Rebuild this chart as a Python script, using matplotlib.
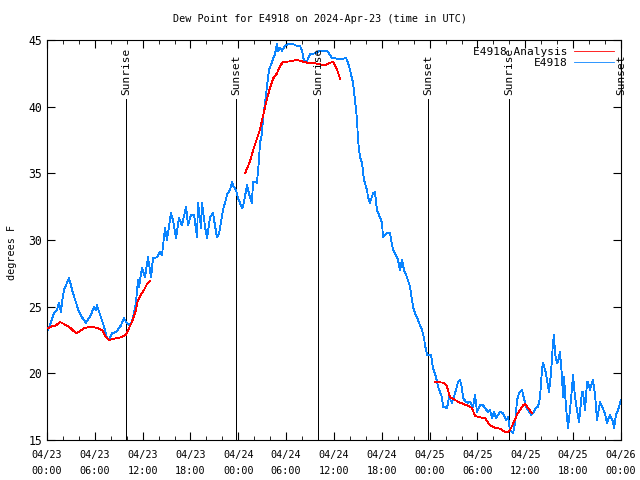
import numpy as np
import pandas as pd
import matplotlib
matplotlib.use('Agg')
import matplotlib.pyplot as plt
import matplotlib.dates as mdates

# start of the time window (UTC)
START = pd.Timestamp('2024-04-23 00:00')

# observed dew point, E4918 (hours since start, degrees F)
obs_hours = [
    0.13, 0.50, 0.88, 1.25, 1.50, 1.76, 1.88, 2.13, 2.51, 2.76, 3.01, 3.14, 3.64, 4.01,
    4.39, 4.89, 5.52, 5.90, 6.15, 6.27, 6.77, 7.15, 7.53, 7.78, 8.15, 8.66, 9.28, 9.66,
    9.91, 10.29, 10.66, 11.16, 11.41, 11.54, 11.92, 12.29, 12.67, 13.05, 13.30, 13.80,
    14.17, 14.43, 14.80, 15.05, 15.55, 15.80, 16.18, 16.56, 16.93, 17.44, 17.69, 18.06,
    18.44, 18.82, 18.94, 19.32, 19.44, 19.82, 20.07, 20.45, 20.82, 21.32, 21.58, 22.08,
    22.33, 22.58, 22.95, 23.20, 23.33, 23.71, 23.96, 24.46, 24.59, 25.09, 25.46, 25.71,
    25.84, 26.34, 26.59, 26.72, 26.97, 27.09, 27.35, 27.60, 27.85, 28.22, 28.35, 28.60,
    28.85, 28.98, 29.23, 29.48, 29.85, 30.23, 30.86, 31.36, 31.74, 31.99, 32.24, 32.61,
    32.99, 33.62, 34.24, 35.12, 35.75, 36.38, 37.13, 37.51, 37.76, 38.01, 38.38, 38.63,
    38.89, 39.01, 39.26, 39.51, 39.76, 40.14, 40.27, 40.52, 40.89, 41.14, 41.39, 41.77,
    42.02, 42.15, 42.65, 43.03, 43.40, 43.65, 44.03, 44.28, 44.53, 44.78, 45.16, 45.53,
    45.91, 46.16, 46.54, 46.66, 47.04, 47.29, 47.42, 47.67, 48.17, 48.42, 48.80, 49.05,
    49.55, 49.67, 50.18, 50.43, 50.80, 51.18, 51.56, 51.81, 52.06, 52.18, 52.56, 52.81,
    53.06, 53.31, 53.44, 53.69, 53.94, 54.31, 54.69, 54.94, 55.32, 55.57, 55.82, 56.07,
    56.32, 56.82, 57.20, 57.58, 57.83, 58.08, 58.45, 58.71, 58.96, 59.21, 59.58, 59.71,
    60.08, 60.34, 60.71, 60.96, 61.34, 61.59, 61.84, 62.09, 62.22, 62.59, 62.72, 62.97,
    63.22, 63.47, 63.60, 63.72, 63.97, 64.10, 64.35, 64.60, 64.73, 64.85, 65.10, 65.35,
    65.60, 65.86, 65.98, 66.23, 66.48, 66.73, 67.11, 67.23, 67.49, 67.74, 67.86, 68.11,
    68.36, 68.49, 68.74, 68.99, 69.37, 69.62, 69.99, 70.24, 70.62, 71.00, 71.12, 71.38,
    71.63, 72.00,
]
obs_values = [
    23.25, 23.85, 24.5, 24.75, 25.3, 24.6, 25.35, 26.25, 26.8, 27.15, 26.6, 26.25, 25.3, 24.6,
    24.2, 23.8, 24.4, 25.0, 24.75, 25.1, 24.2, 23.5, 22.65, 22.5, 23.0, 23.1, 23.6, 24.15,
    23.85, 23.6, 23.85, 25.3, 27.0, 26.5, 27.9, 27.2, 28.7, 27.2, 28.65, 28.7,
    29.1, 28.9, 30.9, 30.0, 32.0, 31.5, 30.15, 31.65, 31.1, 32.5, 31.1, 31.9,
    31.9, 30.2, 32.8, 30.9, 32.8, 31.0, 30.15, 31.7, 32.0, 30.2, 30.5, 32.25,
    32.8, 33.4, 33.75, 34.35, 34.1, 33.75, 33.15, 32.4, 32.5, 34.1, 33.2, 32.8,
    34.35, 34.3, 36.0, 37.3, 38.0, 39.1, 40.3, 41.55, 42.8, 43.3, 43.6, 43.95,
    44.7, 44.2, 44.4, 44.2, 44.55, 44.7, 44.7, 44.55, 44.55, 44.2, 43.4, 43.4,
    43.95, 44.0, 44.2, 44.2, 43.65, 43.6, 43.6, 43.65, 43.3, 42.75, 41.8, 40.5,
    39.0, 37.5, 36.2, 35.8, 34.5, 33.75, 33.2, 32.8, 33.5, 33.6, 32.25, 31.7,
    31.3, 30.2, 30.5, 30.5, 29.25, 29.0, 28.5, 27.75, 28.5, 27.75, 27.2, 26.5,
    25.0, 24.5, 24.0, 23.8, 23.25, 22.65, 22.1, 21.4, 21.4, 20.4, 19.7, 19.0,
    18.2, 17.5, 17.4, 18.2, 17.8, 18.5, 19.35, 19.5, 18.9, 18.15, 17.85, 17.8,
    17.85, 17.6, 17.5, 18.4, 17.1, 17.6, 17.6, 17.4, 17.1, 17.25, 16.65, 17.1,
    16.65, 17.1, 17.0, 16.5, 16.7, 15.75, 15.5, 16.3, 18.0, 18.5, 18.75, 18.4,
    17.5, 17.25, 16.9, 17.0, 17.4, 17.5, 18.2, 20.25, 20.8, 20.0, 19.5, 18.6,
    20.0, 22.3, 22.9, 21.5, 20.8, 20.85, 21.6, 19.7, 18.2, 19.7, 17.5, 15.9,
    17.25, 18.9, 19.9, 18.2, 17.25, 16.35, 18.6, 18.6, 17.25, 19.35, 19.35, 18.75,
    19.3, 19.5, 18.4, 16.5, 17.85, 17.5, 17.0, 16.3, 16.9, 16.35, 15.9, 16.9,
    17.25, 18.0,
]

# analysis dew point (NaN marks gaps in the analysis)
ana_hours = [
    0.13, 0.50, 1.13, 1.63, 2.13, 2.76, 3.64, 4.01, 4.64, 5.52, 6.27, 6.90, 7.40, 7.78,
    8.40, 9.28, 9.91, 10.29, 10.66, 11.16, 11.41, 11.79, 12.17, 12.54, 12.92, 18.0,
    24.84, 25.46, 25.84, 26.34, 26.72, 27.09, 27.60, 27.97, 28.35, 28.85, 29.23, 29.60,
    30.48, 31.36, 31.99, 32.61, 33.37, 33.99, 34.87, 35.50, 35.88, 36.38, 36.75, 42.0,
    48.67, 49.80, 50.18, 50.55, 51.18, 51.81, 52.68, 53.31, 53.69, 54.31, 54.94, 55.57,
    56.20, 56.82, 57.45, 57.83, 58.08, 58.45, 58.96, 59.33, 59.71, 59.96, 60.34, 60.84,
]
ana_values = [
    23.4, 23.5, 23.6, 23.85, 23.7, 23.5, 23.0, 23.1, 23.4, 23.5, 23.4, 23.25, 22.7, 22.5,
    22.6, 22.7, 22.9, 23.4, 23.85, 24.75, 25.5, 25.9, 26.25, 26.7, 26.9, np.nan,
    35.0, 35.9, 36.7, 37.6, 38.3, 39.3, 40.6, 41.4, 42.1, 42.5, 43.05, 43.35,
    43.4, 43.5, 43.4, 43.3, 43.3, 43.2, 43.1, 43.3, 43.35, 42.8, 42.1, np.nan,
    19.35, 19.3, 19.0, 18.2, 18.0, 17.8, 17.6, 17.4, 16.8, 16.7, 16.65, 16.1,
    15.9, 15.85, 15.6, 15.6, 15.75, 16.2, 16.9, 17.25, 17.6, 17.7, 17.4, 17.0,
]

# sunrise / sunset events (hours since start)
event_hours = [9.91, 23.7, 33.99, 47.79, 57.95, 72.0]
event_labels = ['Sunrise', 'Sunset', 'Sunrise', 'Sunset', 'Sunrise', 'Sunset']

MONO = 'DejaVu Sans Mono'
FS = 7.3
LW = 0.6


def to_time(hours):
    return [START + pd.Timedelta(hours=h) for h in hours]


def make_chart():
    fig = plt.figure(figsize=(6.4, 4.8), dpi=100)
    ax = fig.add_axes([47 / 640, 40 / 480, 574 / 640, 400 / 480])

    ax.plot(to_time(ana_hours), ana_values, color='#ff0000', lw=LW,
            label='E4918 Analysis', antialiased=False, zorder=3)
    ax.plot(to_time(obs_hours), obs_values, color='#0a84ff', lw=LW,
            label='E4918', antialiased=False, zorder=2)

    # sunrise / sunset markers with vertical labels
    for h, lab in zip(event_hours, event_labels):
        t = START + pd.Timedelta(hours=h)
        ax.plot([t, t], [15, 40.6], color='black', lw=LW, antialiased=False, zorder=1)
        ax.text(t, 40.9, lab, rotation=90, ha='center', va='bottom',
                fontsize=FS + 0.7, family=MONO)

    ax.set_xlim(START, START + pd.Timedelta(hours=72))
    ax.set_ylim(15, 45)
    ax.set_yticks([15, 20, 25, 30, 35, 40, 45])

    ax.xaxis.set_major_locator(mdates.HourLocator(byhour=[0, 6, 12, 18]))
    ax.xaxis.set_minor_locator(mdates.HourLocator(byhour=range(0, 24, 2)))
    ax.xaxis.set_major_formatter(mdates.DateFormatter('%m/%d\n%H:%M'))

    ax.tick_params(which='both', direction='in', top=True, right=True, labelsize=FS)
    ax.tick_params(which='major', length=6)
    ax.tick_params(which='minor', length=3)
    ax.tick_params(axis='x', pad=7)
    for lab in ax.get_xticklabels():
        lab.set_family(MONO)
        lab.set_linespacing(1.75)
    for lab in ax.get_yticklabels():
        lab.set_family(MONO)
        lab.set_fontsize(FS + 1)

    fig.text(0.5, 1 - 19 / 480, 'Dew Point for E4918 on 2024-Apr-23 (time in UTC)',
             ha='center', va='center', fontsize=FS, family=MONO)
    ax.set_ylabel('degrees F', fontsize=FS, family=MONO)
    ax.yaxis.set_label_coords(-30 / 574, 0.47)

    leg = ax.legend(loc='upper right', frameon=False, markerfirst=False,
                    prop={'family': MONO, 'size': FS + 0.7}, handlelength=3.6,
                    borderaxespad=0.2, labelspacing=0.15, handletextpad=0.6)
    for txt in leg.get_texts():
        txt.set_ha('right')

    fig.savefig('out.png', dpi=100)


if __name__ == '__main__':
    make_chart()
